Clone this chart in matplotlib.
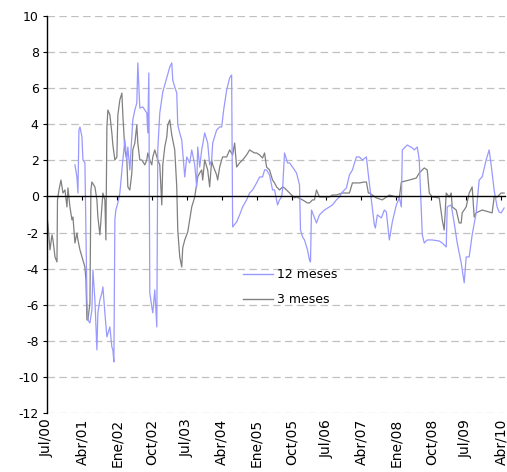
import matplotlib
matplotlib.use("Agg")
import matplotlib.pyplot as plt

# x = months since Jul/2000, y = value
m12_x = [7.2, 7.71, 7.97, 8.23, 8.49, 9.0, 9.26, 9.77, 10.03, 10.29, 10.54, 11.06, 11.57, 11.83, 12.34, 12.86,
         13.11, 13.63, 14.14, 14.4, 14.91, 15.43, 16.2, 16.71, 16.97, 17.23, 17.49, 17.74, 18.26, 18.77, 19.54,
         20.06, 20.57, 20.83, 21.34, 22.11, 22.63, 23.14, 23.4, 23.91, 24.69, 25.71, 25.97, 26.23, 26.49, 27.0,
         27.26, 27.77, 28.29, 28.54, 29.06, 29.83, 30.86, 31.63, 32.14, 32.4, 32.91, 33.43, 33.69, 34.2, 34.71,
         35.49, 36.0, 36.77, 37.29, 38.06, 38.57, 38.83, 39.34, 39.86, 40.63, 41.4, 41.91, 42.43, 42.69, 43.71,
         44.49, 45.0, 45.51, 46.29, 47.06, 47.57, 47.83, 48.86, 49.63, 50.4, 51.43, 52.2, 52.97, 54.0, 54.77,
         55.54, 56.06, 56.57, 57.34, 58.11, 58.63, 59.4, 59.91, 60.43, 60.69, 61.2, 61.97, 62.49, 63.26, 64.29,
         64.54, 65.06, 65.31, 65.83, 66.34, 67.11, 67.63, 67.89, 68.14, 68.91, 69.43, 70.2, 70.71, 71.49, 72.77,
         73.54, 74.57, 75.34, 76.11, 77.14, 77.91, 78.69, 79.71, 80.49, 81.26, 82.29, 82.8, 83.57, 84.34, 84.6,
         85.11, 86.14, 86.91, 87.43, 88.2, 88.97, 90.0, 90.77, 91.29, 91.54, 92.83, 94.11, 94.63, 95.4, 95.91,
         96.69, 97.2, 97.97, 99.26, 101.06, 101.83, 102.86, 103.11, 104.14, 104.91, 105.69, 106.71, 107.49, 108.0,
         108.77, 109.54, 110.57, 111.34, 112.11, 113.14, 113.91, 114.43, 115.2, 115.97, 116.49, 117.0, 117.77]
m12_y = [1.75, 1.08, 0.19, 3.68, 3.85, 3.30, 2.02, 1.86, -2.02, -5.73, -6.84, -7.01, -6.29, -4.07, -5.73, -8.50,
         -6.45, -5.73, -5.35, -5.01, -6.45, -7.78, -7.23, -8.34, -8.50, -9.17, -1.30, -0.75, -0.36, 0.19, 2.02,
         3.13, 2.02, 2.74, 1.47, 4.24, 4.79, 5.18, 7.40, 4.90, 4.96, 4.63, 3.52, 6.84, -5.35, -6.12,
         -6.45, -5.18, -7.23, 2.58, 4.63, 5.79, 6.57, 7.17, 7.40, 6.45, 6.07, 5.73, 3.96, 3.52, 3.13,
         1.08, 2.19, 1.86, 2.58, 1.75, 0.53, 2.74, 1.63, 2.58, 3.52, 2.96, 1.75, 2.02, 2.96, 3.68,
         3.85, 3.85, 4.79, 5.90, 6.57, 6.73, -1.69, -1.41, -1.02, -0.58, -0.19, 0.19, 0.36, 0.75, 1.08,
         1.08, 1.47, 1.47, 1.19, 0.36, 0.36, -0.47, -0.19, -0.03, 0.36, 2.41, 1.86, 1.86, 1.63, 1.30,
         1.08, 0.64, -1.86, -2.24, -2.41, -2.96, -3.52, -3.63, -0.75, -1.19, -1.47, -1.02, -0.91, -0.75, -0.58,
         -0.47, -0.19, -0.03, 0.25, 0.47, 1.19, 1.47, 2.19, 2.19, 2.02, 2.19, 1.19, -0.19, -1.58, -1.75,
         -1.02, -1.19, -0.75, -0.86, -2.41, -1.41, -0.47, -0.08, -0.58, 2.58, 2.85, 2.69, 2.58, 2.74, 2.02,
         -2.13, -2.58, -2.41, -2.41, -2.47, -2.58, -2.80, -0.58, -0.47, -1.47, -2.58, -3.68, -4.79, -3.35,
         -3.35, -2.13, -0.91, 0.91, 1.08, 2.02, 2.58, 1.75, 0.36, -0.58, -0.86, -0.91, -0.64]

m3_x = [0, 0.26, 0.77, 1.29, 1.54, 2.06, 2.57, 2.7, 3.09, 3.6, 4.11, 4.63, 5.14, 5.4, 5.91, 6.43, 6.69, 7.2,
        7.71, 7.97, 8.49, 9.26, 9.77, 10.03, 10.29, 10.54, 11.06, 11.31, 11.57, 12.34, 12.86, 13.11, 13.63,
        13.89, 14.14, 14.4, 14.91, 15.17, 15.43, 15.69, 16.2, 16.71, 16.97, 17.49, 18.0, 18.26, 18.77, 19.29,
        19.54, 20.06, 20.57, 20.83, 21.34, 21.86, 22.11, 22.63, 23.14, 23.4, 23.91, 24.43, 25.2, 25.71, 25.97,
        26.49, 27.0, 27.26, 27.77, 28.29, 28.54, 29.06, 29.57, 29.83, 30.34, 30.86, 31.11, 31.63, 32.14, 32.4,
        32.91, 33.43, 33.69, 34.2, 34.71, 34.97, 35.49, 36.26, 36.77, 37.29, 38.06, 38.83, 39.34, 39.86, 40.11,
        40.63, 41.4, 41.91, 42.43, 42.69, 43.71, 43.97, 44.49, 45.0, 45.26, 46.29, 47.06, 47.83, 48.34, 48.86,
        49.63, 50.4, 51.43, 52.2, 52.97, 53.49, 54.0, 54.77, 55.54, 56.06, 56.57, 57.34, 58.11, 58.63, 59.14,
        59.91, 60.69, 61.2, 61.71, 62.49, 63.77, 64.29, 65.83, 67.11, 67.63, 68.4, 68.91, 69.43, 70.2, 70.97,
        72.77, 73.54, 74.57, 76.11, 77.14, 77.91, 78.69, 80.49, 81.77, 82.29, 82.8, 83.06, 84.86, 86.4, 88.2,
        90.0, 90.77, 91.29, 93.34, 95.14, 95.91, 97.2, 97.97, 98.49, 99.26, 101.06, 101.83, 102.34, 102.86,
        103.63, 104.14, 104.4, 105.43, 106.2, 106.71, 106.97, 108.0, 108.77, 109.54, 110.06, 110.57, 112.11,
        113.91, 114.69, 115.2, 115.97, 117.0, 117.77]
m3_y = [-1.14, -1.58, -2.96, -2.13, -2.41, -3.35, -3.63, -0.19, 0.36, 0.91, 0.19, 0.36, -0.58, 0.47, -0.58, -1.30,
        -1.14, -2.58, -2.02, -2.41, -2.96, -3.52, -3.91, -4.63, -6.84, -6.84, -5.90, 0.36, 0.80, 0.53, -0.19,
        -1.14, -2.13, -1.30, -0.58, 0.19, -0.19, -2.41, 3.85, 4.79, 4.52, 3.52, 2.85, 2.02, 2.19, 4.52, 5.35,
        5.73, 4.52, 2.58, 2.02, 0.53, 0.36, 1.30, 2.58, 2.96, 3.96, 2.96, 2.02, 2.02, 1.75, 2.02, 2.41,
        2.02, 1.75, 2.19, 2.58, 2.19, 2.02, 1.75, -0.47, 1.75, 2.74, 3.30, 3.96, 4.24, 3.41, 3.13,
        2.58, 0.53, -1.86, -3.35, -3.91, -2.85, -2.41, -1.97, -1.30, -0.58, -0.03, 1.08, 1.30, 1.47, 0.91,
        2.02, 1.47, 0.53, 2.02, 1.75, 1.19, 0.91, 1.63, 2.02, 2.19, 2.19, 2.58, 2.30, 2.96, 1.63,
        1.86, 2.02, 2.30, 2.58, 2.47, 2.41, 2.41, 2.30, 2.13, 2.41, 1.63, 1.47, 0.91, 0.75, 0.53,
        0.36, 0.53, 0.47, 0.36, 0.19, -0.08, -0.03, -0.19, -0.36, -0.36, -0.19, -0.19, 0.36, -0.03, -0.03,
        -0.03, 0.08, 0.08, 0.19, 0.19, 0.19, 0.75, 0.75, 0.80, 0.80, 0.19, 0.19, -0.08, -0.19, 0.08,
        -0.03, -0.08, 0.80, 0.91, 1.02, 1.30, 1.58, 1.47, 0.19, -0.03, -0.08, -1.30, -1.86, 0.19,
        -0.03, 0.19, -0.58, -0.75, -1.47, -1.47, -0.91, -0.58, 0.19, 0.53, -1.14, -0.91, -0.75,
        -0.86, -0.91, -0.03, -0.03, 0.19, 0.19]

tick_pos = [0, 9, 18, 27, 36, 45, 54, 63, 72, 81, 90, 99, 108, 117]
tick_labels = ["Jul/00", "Abr/01", "Ene/02", "Oct/02", "Jul/03", "Abr/04", "Ene/05",
               "Oct/05", "Jul/06", "Abr/07", "Ene/08", "Oct/08", "Jul/09", "Abr/10"]
y_ticks = list(range(-12, 11, 2))
series_names = ["12 meses", "3 meses"]

plt.rcParams['font.family'] = ['DejaVu Sans']
fig = plt.figure(figsize=(5.07, 4.72), dpi=100)
ax = fig.add_axes([47 / 507, (472 - 413) / 472, (505 - 47) / 507, 397 / 472])

for v in y_ticks:
    if v != 0:
        ax.axhline(v, color='#c0c0c0', lw=0.9, ls=(0, (6, 3.5)), zorder=0)

ax.plot(m12_x, m12_y, color='#9999ff', lw=0.9, label=series_names[0], zorder=3)
ax.plot(m3_x, m3_y, color='#808080', lw=0.9, label=series_names[1], zorder=2)

ax.set_xlim(0, 118)
ax.set_ylim(-12, 10)

for s in ['top', 'right']:
    ax.spines[s].set_visible(False)
ax.spines['bottom'].set_position(('data', 0))
ax.spines['bottom'].set_color('black')
ax.spines['bottom'].set_linewidth(1.0)
ax.spines['bottom'].set_zorder(4)
ax.spines['left'].set_linewidth(1.0)
ax.tick_params(axis='x', direction='out', length=3, width=0.8, pad=157, labelrotation=90, labelsize=10)
ax.tick_params(axis='y', direction='out', length=3, width=0.8, pad=3, labelsize=9)

ax.set_yticks(y_ticks)
ax.set_yticklabels([str(v) for v in y_ticks])
ax.set_xticks(tick_pos)
ax.set_xticklabels(tick_labels)
for lbl in ax.get_xticklabels():
    lbl.set_rotation(90)
    lbl.set_va('top')
    lbl.set_ha('center')

leg = ax.legend(loc='upper left', bbox_to_anchor=((243 - 47) / 458, (413 - 268) / 397),
                frameon=False, fontsize=9, borderpad=0, borderaxespad=0,
                handlelength=2.4, handletextpad=0.35, labelspacing=0.95)
for line in leg.get_lines():
    line.set_linewidth(1.0)

fig.savefig("out.png", dpi=100)
